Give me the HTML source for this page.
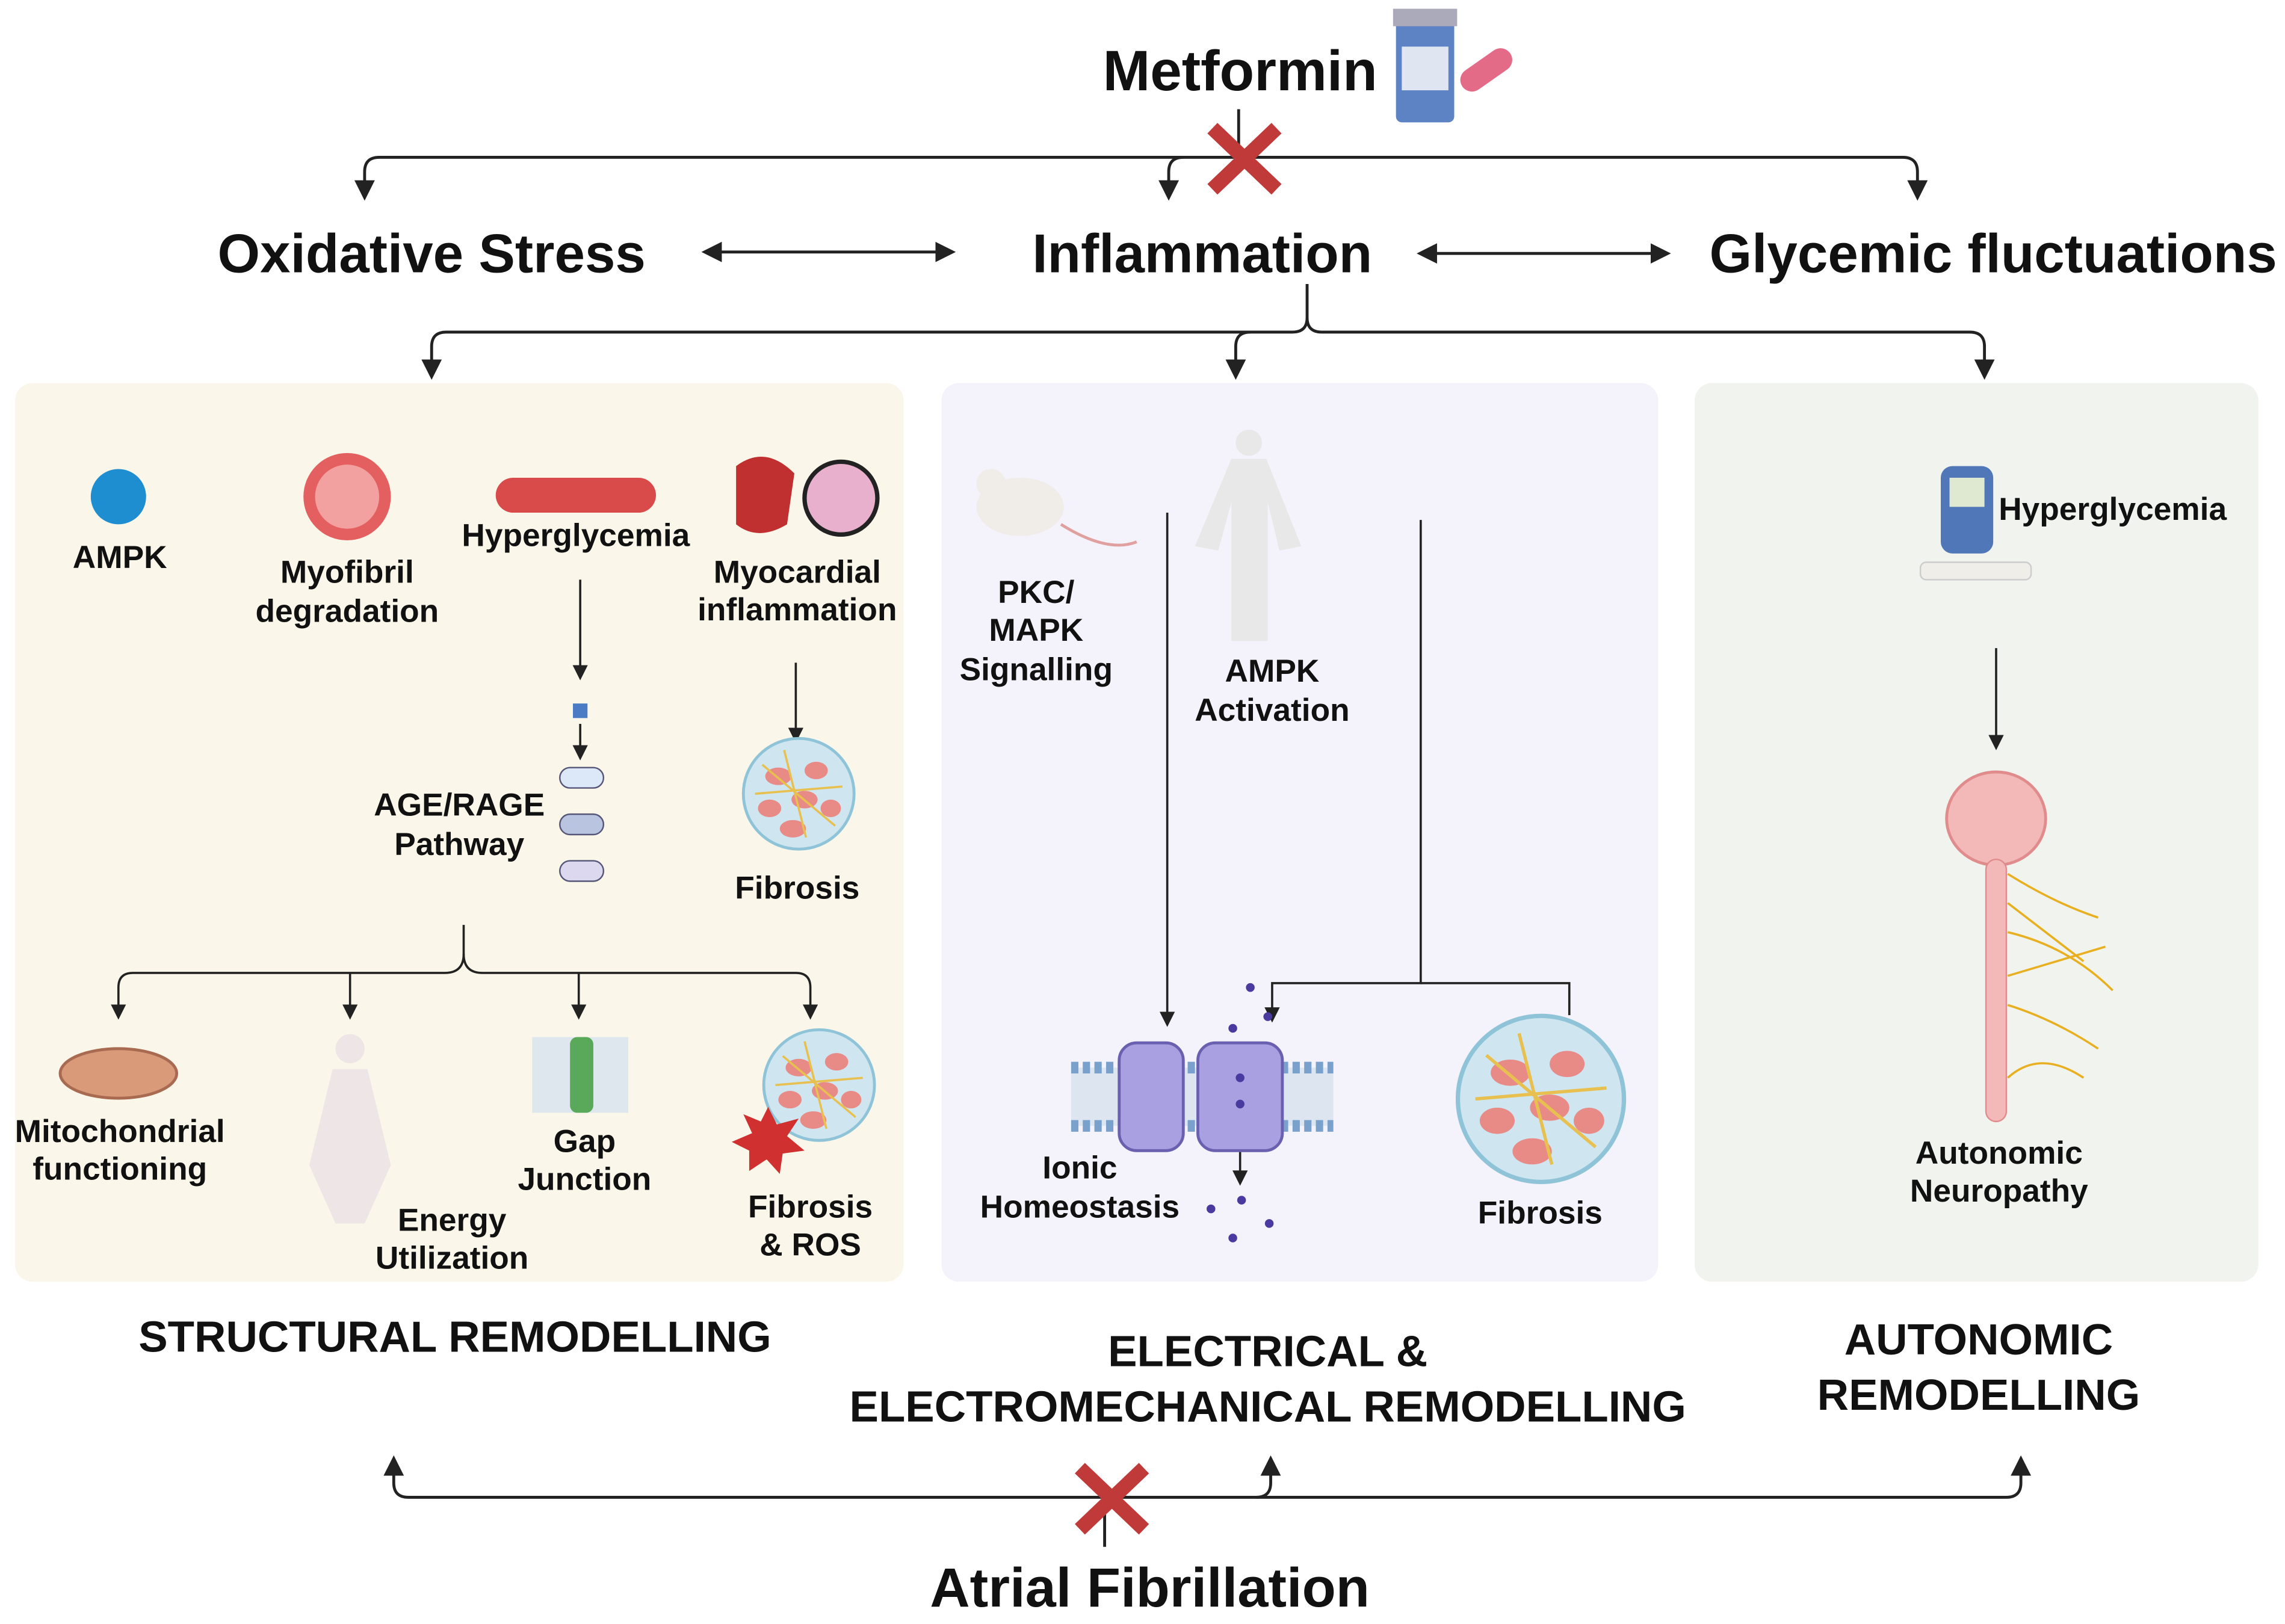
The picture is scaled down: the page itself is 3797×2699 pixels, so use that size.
<!DOCTYPE html>
<html><head><meta charset="utf-8"><style>
html,body{margin:0;padding:0;background:#fff;}
svg{display:block;}
text{font-family:"Liberation Sans",sans-serif;font-weight:bold;fill:#111;text-anchor:middle;}
.t{font-size:37.5px}.s{font-size:22px}.b{font-size:30px}
</style></head><body>
<svg width="3797" height="2699" viewBox="0 0 1568 1115" xmlns="http://www.w3.org/2000/svg">
<defs>
<marker id="a" viewBox="0 0 10 10" refX="8" refY="5" markerWidth="7" markerHeight="7" orient="auto-start-reverse"><path d="M0,0L10,5L0,10z" fill="#222"/></marker>
<g id="fib"><circle r="38" fill="#cfe6f0" stroke="#8fc4d8" stroke-width="2"/>
<ellipse cx="-14" cy="-12" rx="9" ry="6" fill="#e88a86"/><ellipse cx="12" cy="-16" rx="8" ry="6" fill="#e88a86"/><ellipse cx="-20" cy="10" rx="8" ry="6" fill="#e88a86"/><ellipse cx="4" cy="4" rx="9" ry="6" fill="#e88a86"/><ellipse cx="22" cy="10" rx="7" ry="6" fill="#e88a86"/><ellipse cx="-4" cy="24" rx="9" ry="6" fill="#e88a86"/>
<path d="M-30,0L30,-5M-10,-30L5,30M-25,-20L25,22" stroke="#e8c050" stroke-width="1.5" fill="none"/></g>
</defs>
<g fill="none" stroke="#222" stroke-width="2">
<path d="M850,75V108"/>
<path d="M250,135V118Q250,108 260,108H1306Q1316,108 1316,118V135" marker-start="url(#a)" marker-end="url(#a)"/>
<path d="M802,135V118Q802,108 812,108" marker-start="url(#a)"/>
<path d="M484,173H653" marker-start="url(#a)" marker-end="url(#a)"/>
<path d="M975,174H1144" marker-start="url(#a)" marker-end="url(#a)"/>
<path d="M897,195V218Q897,228 887,228H306Q296,228 296,238V258" marker-end="url(#a)"/>
<path d="M897,218Q897,228 907,228H1352Q1362,228 1362,238V258" marker-end="url(#a)"/>
<path d="M848,258V238Q848,228 858,228" marker-start="url(#a)"/>
<path d="M270,1002V1018Q270,1028 280,1028H1377Q1387,1028 1387,1018V1002" marker-start="url(#a)" marker-end="url(#a)"/>
<path d="M872,1002V1018Q872,1028 862,1028" marker-start="url(#a)"/>
<path d="M758,1028V1062"/>
</g>
<rect x="10" y="263" width="610" height="617" rx="12" fill="#faf7ea"/>
<rect x="646" y="263" width="492" height="617" rx="12" fill="#f4f2fa"/>
<rect x="1163" y="263" width="387" height="617" rx="12" fill="#f1f3ee"/>
<g stroke="#c03a3a" stroke-width="10" stroke-linecap="butt"><path d="M832,88L876,130M876,88L832,130"/><path d="M741,1008L785,1050M785,1008L741,1050"/></g>
<text x="851" y="62" font-size="39">Metformin</text>
<rect x="958" y="14" width="40" height="70" rx="4" fill="#5d83c4"/><rect x="956" y="6" width="44" height="12" fill="#aab"/><rect x="962" y="32" width="32" height="30" fill="#dfe6f2"/>
<rect x="1000" y="40" width="40" height="16" rx="8" fill="#e46b88" transform="rotate(-35 1020 48)"/>
<text x="296" y="187" class="t">Oxidative Stress</text>
<text x="825" y="187" class="t">Inflammation</text>
<text x="1368" y="187" class="t">Glycemic fluctuations</text>
<!-- left panel -->
<circle cx="81" cy="341" r="19" fill="#1e8ed0"/>
<text x="82" y="390" class="s">AMPK</text>
<circle cx="238" cy="341" r="30" fill="#e46060"/><circle cx="238" cy="341" r="22" fill="#f2a0a0"/>
<text x="238" y="400" class="s">Myofibril</text><text x="238" y="427" class="s">degradation</text>
<rect x="340" y="328" width="110" height="24" rx="12" fill="#d94a4a"/>
<text x="395" y="375" class="s">Hyperglycemia</text>
<path d="M505,320Q525,305 545,325L540,360Q520,372 505,360Z" fill="#c03030"/>
<circle cx="577" cy="342" r="25" fill="#e8b0cc" stroke="#222" stroke-width="3"/>
<text x="547" y="400" class="s">Myocardial</text><text x="547" y="426" class="s">inflammation</text>
<g fill="none" stroke="#222" stroke-width="1.5">
<path d="M398,398V465" marker-end="url(#a)"/><path d="M398,497V520" marker-end="url(#a)"/>
<path d="M546,455V508" marker-end="url(#a)"/>
<path d="M318,635V655Q318,668 305,668H91Q81,668 81,678V698" marker-end="url(#a)"/>
<path d="M318,655Q318,668 331,668H546Q556,668 556,678V698" marker-end="url(#a)"/>
<path d="M240,668V698" marker-end="url(#a)"/><path d="M397,668V698" marker-end="url(#a)"/>
</g>
<rect x="393" y="483" width="10" height="10" fill="#4a7bc4"/>
<g><rect x="384" y="527" width="30" height="14" rx="7" fill="#dce8f8" stroke="#557"/><rect x="384" y="559" width="30" height="14" rx="7" fill="#b8c4e0" stroke="#557"/><rect x="384" y="591" width="30" height="14" rx="7" fill="#dcd8f0" stroke="#557"/></g>
<text x="315" y="560" class="s">AGE/RAGE</text><text x="315" y="587" class="s">Pathway</text>
<use href="#fib" x="548" y="545"/>
<text x="547" y="617" class="s">Fibrosis</text>
<ellipse cx="81" cy="737" rx="40" ry="17" fill="#d99a7a" stroke="#a86a50" stroke-width="2"/>
<text x="82" y="784" class="s">Mitochondrial</text><text x="82" y="810" class="s">functioning</text>
<circle cx="240" cy="720" r="10" fill="#eee6e6"/><path d="M228,734H252L268,800L250,840H230L212,800Z" fill="#eee6e6"/>
<text x="310" y="845" class="s">Energy</text><text x="310" y="871" class="s">Utilization</text>
<rect x="365" y="712" width="66" height="52" fill="#dfe7ee"/><rect x="391" y="712" width="16" height="52" rx="5" fill="#5aa85a"/>
<text x="401" y="791" class="s">Gap</text><text x="401" y="817" class="s">Junction</text>
<use href="#fib" x="562" y="745"/>
<polygon points="527,760 533,772 548,768 540,780 552,790 537,792 535,806 526,796 514,804 514,790 502,784 516,778 510,765 522,770" fill="#d03030"/>
<text x="556" y="836" class="s">Fibrosis</text><text x="556" y="862" class="s">&amp; ROS</text>
<!-- middle -->
<ellipse cx="700" cy="348" rx="30" ry="20" fill="#f0ece8"/><circle cx="680" cy="332" r="10" fill="#f0ece8"/>
<path d="M728,360Q760,380 780,372" stroke="#e0a0a0" stroke-width="2" fill="none"/>
<circle cx="857" cy="304" r="9" fill="#e8e8e8"/><path d="M845,315H869L893,375L878,378L870,345V440H845V345L836,378L820,375Z" fill="#e8e8e8"/>
<text x="711" y="414" class="s">PKC/</text><text x="711" y="440" class="s">MAPK</text><text x="711" y="467" class="s">Signalling</text>
<text x="873" y="468" class="s">AMPK</text><text x="873" y="495" class="s">Activation</text>
<g fill="none" stroke="#222" stroke-width="1.5">
<path d="M801,352V703" marker-end="url(#a)"/>
<path d="M975,357V675H873V700" marker-end="url(#a)"/><path d="M975,675H1077V697"/>
<path d="M851,790V812" marker-end="url(#a)"/>
</g>
<rect x="735" y="733" width="180" height="40" fill="#dde6f0"/>
<path d="M735,733H915M735,773H915" stroke="#7aa0cc" stroke-width="8" stroke-dasharray="5,3"/>
<rect x="768" y="716" width="44" height="74" rx="12" fill="#a8a0e0" stroke="#6a60b0" stroke-width="2"/>
<rect x="822" y="716" width="58" height="74" rx="12" fill="#a8a0e0" stroke="#6a60b0" stroke-width="2"/>
<g fill="#4a3aa0"><circle cx="858" cy="678" r="3"/><circle cx="846" cy="706" r="3"/><circle cx="870" cy="698" r="3"/><circle cx="851" cy="740" r="3"/><circle cx="851" cy="758" r="3"/><circle cx="831" cy="830" r="3"/><circle cx="852" cy="824" r="3"/><circle cx="871" cy="840" r="3"/><circle cx="846" cy="850" r="3"/></g>
<text x="741" y="809" class="s">Ionic</text><text x="741" y="836" class="s">Homeostasis</text>
<use href="#fib" x="1057" y="755" transform="translate(-528 -378) scale(1.5)" />
<text x="1057" y="840" class="s">Fibrosis</text>
<!-- right -->
<rect x="1332" y="320" width="36" height="60" rx="8" fill="#5077b8"/><rect x="1338" y="328" width="24" height="20" fill="#dfe8d0"/>
<rect x="1318" y="386" width="76" height="12" rx="4" fill="#f0eee8" stroke="#ccc"/>
<text x="1450" y="357" class="s">Hyperglycemia</text>
<path d="M1370,445V513" stroke="#222" stroke-width="1.5" fill="none" marker-end="url(#a)"/>
<ellipse cx="1370" cy="562" rx="34" ry="32" fill="#f3b8b8" stroke="#e08c8c" stroke-width="2"/>
<rect x="1363" y="590" width="14" height="180" rx="7" fill="#f3b8b8" stroke="#e08c8c"/>
<g stroke="#e8b020" stroke-width="1.5" fill="none"><path d="M1378,600Q1410,620 1440,630M1378,640Q1420,650 1450,680M1378,690Q1410,700 1440,720M1378,740Q1400,720 1430,740M1378,620L1430,660M1378,670L1445,650"/></g>
<text x="1372" y="799" class="s">Autonomic</text><text x="1372" y="825" class="s">Neuropathy</text>
<text x="312" y="928" class="b">STRUCTURAL REMODELLING</text>
<text x="870" y="938" class="b">ELECTRICAL &amp;</text>
<text x="870" y="976" class="b">ELECTROMECHANICAL REMODELLING</text>
<text x="1358" y="930" class="b">AUTONOMIC</text>
<text x="1358" y="968" class="b">REMODELLING</text>
<text x="789" y="1103" font-size="38">Atrial Fibrillation</text>
</svg>
</body></html>
